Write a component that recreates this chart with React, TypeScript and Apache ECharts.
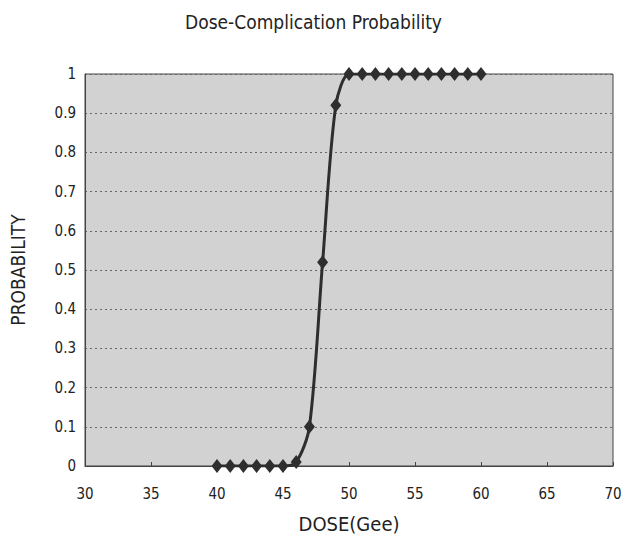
import React, { useEffect, useRef } from "react";
import * as echarts from "echarts";

const doses = [40, 41, 42, 43, 44, 45, 46, 47, 48, 49, 50, 51, 52, 53, 54, 55, 56, 57, 58, 59, 60];
const probabilities = [0, 0, 0, 0, 0, 0, 0.01, 0.1, 0.52, 0.92, 1, 1, 1, 1, 1, 1, 1, 1, 1, 1, 1];
const titleText = "Dose-Complication Probability";
const xName = "DOSE(Gee)";
const yName = "PROBABILITY";

const FONT = "'Liberation Sans Narrow', 'DejaVu Sans Condensed', 'Open Sans', sans-serif";

export default function App() {
  const ref = useRef<HTMLDivElement>(null);
  useEffect(() => {
    if (!ref.current) return;
    const chart = echarts.init(ref.current, undefined, { renderer: "svg" });
    chart.setOption({
      animation: false,
      backgroundColor: "#ffffff",
      title: {
        text: titleText,
        left: "center",
        top: 7,
        textStyle: { fontFamily: FONT, fontSize: 19, fontWeight: "normal", color: "#222" },
      },
      grid: {
        left: 85,
        right: 14,
        top: 74,
        bottom: 93,
        show: true,
        backgroundColor: "#d2d2d2",
        borderColor: "#444",
        borderWidth: 1,
      },
      xAxis: {
        type: "value",
        min: 30,
        max: 70,
        interval: 5,
        name: xName,
        nameLocation: "middle",
        nameGap: 48,
        nameTextStyle: { fontFamily: FONT, fontSize: 20, color: "#222" },
        axisLine: { show: true, lineStyle: { color: "#444", width: 1 } },
        axisTick: { show: true, inside: true, length: 4, lineStyle: { color: "#444" } },
        axisLabel: { fontFamily: FONT, fontSize: 15, color: "#222", margin: 20 },
        splitLine: { show: false },
      },
      yAxis: {
        type: "value",
        min: 0,
        max: 1,
        interval: 0.1,
        name: yName,
        nameLocation: "middle",
        nameGap: 58,
        nameTextStyle: { fontFamily: FONT, fontSize: 19, color: "#222" },
        axisLine: { show: true, lineStyle: { color: "#444", width: 1 } },
        axisTick: { show: false },
        axisLabel: {
          fontFamily: FONT,
          fontSize: 15,
          color: "#222",
          margin: 9,
          formatter: (v: number) => String(Math.round(v * 10) / 10),
        },
        splitLine: { show: true, lineStyle: { color: "#666", type: [2, 3], width: 1 } },
      },
      series: [
        {
          type: "line",
          data: doses.map((d, i) => [d, probabilities[i]]),
          smooth: 0.3,
          symbol: "diamond",
          symbolSize: [11, 14],
          itemStyle: { color: "#2e2e2e" },
          lineStyle: { color: "#2e2e2e", width: 3 },
        },
      ],
    });
    return () => chart.dispose();
  }, []);
  return (
    <div
      ref={ref}
      style={{ position: "fixed", left: 0, top: 0, width: 627, height: 559 }}
    />
  );
}
